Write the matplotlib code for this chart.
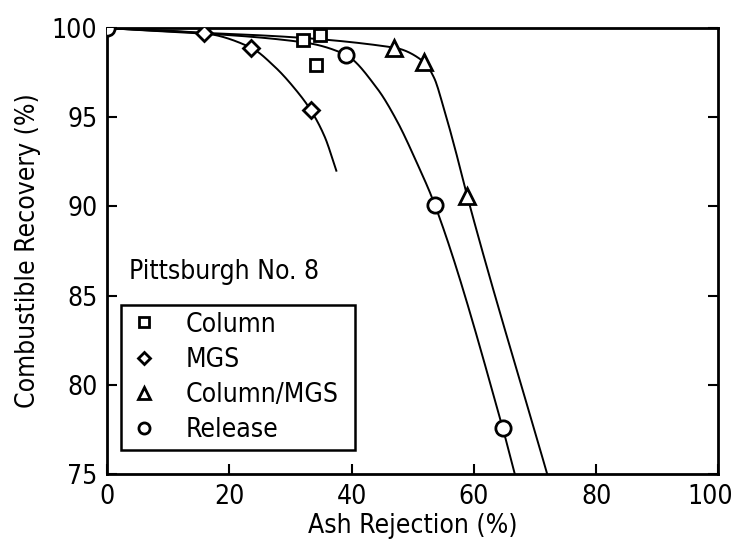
import numpy as np
import matplotlib
matplotlib.use("Agg")
import matplotlib.pyplot as plt
import matplotlib.transforms as mtransforms
from matplotlib import font_manager as fm
from matplotlib.lines import Line2D

# ---- data ----
column_x = [32.0, 34.8, 34.1]
column_y = [99.3, 99.6, 97.9]

mgs_x = [15.9, 23.5, 33.3]
mgs_y = [99.7, 98.9, 95.4]

colmgs_x = [46.9, 51.8, 58.9]
colmgs_y = [98.9, 98.1, 90.6]

release_x = [0.0, 39.0, 53.6, 64.7]
release_y = [100.0, 98.5, 90.1, 77.6]

# fitted trend curves
mgs_curve_x = [0, 15.9, 23.5, 27.5, 30.7, 33.3, 35.6, 37.5]
mgs_curve_y = [100, 99.7, 98.9, 97.8, 96.6, 95.4, 93.9, 92.0]
colmgs_curve_x = [0, 46.9, 51.8, 53.5, 55.0, 57.1, 58.9, 72.0]
colmgs_curve_y = [100, 98.9, 98.1, 97.2, 95.6, 93.0, 90.6, 75.0]
release_curve_x = [0, 32.0, 39.0, 44.2, 47.4, 50.6, 53.6, 64.7, 66.7]
release_curve_y = [100, 99.2, 98.5, 96.6, 94.8, 92.5, 90.1, 77.6, 75.0]

x_ticks = [0, 20, 40, 60, 80, 100]
y_ticks = [75, 80, 85, 90, 95, 100]


def pchip(x, y, xs):
    x = np.asarray(x, float); y = np.asarray(y, float)
    h = np.diff(x); d = np.diff(y) / h
    n = len(x)
    m = np.zeros(n)
    for k in range(1, n - 1):
        if d[k - 1] * d[k] <= 0:
            m[k] = 0
        else:
            w1 = 2 * h[k] + h[k - 1]; w2 = h[k] + 2 * h[k - 1]
            m[k] = (w1 + w2) / (w1 / d[k - 1] + w2 / d[k])
    m[0] = d[0]; m[-1] = d[-1]
    idx = np.clip(np.searchsorted(x, xs) - 1, 0, n - 2)
    t = (xs - x[idx]) / h[idx]
    h00 = 2 * t**3 - 3 * t**2 + 1; h10 = t**3 - 2 * t**2 + t
    h01 = -2 * t**3 + 3 * t**2; h11 = t**3 - t**2
    return h00 * y[idx] + h10 * h[idx] * m[idx] + h01 * y[idx + 1] + h11 * h[idx] * m[idx + 1]


names = {f.name for f in fm.fontManager.ttflist}
fam = None
for cand in ["Liberation Sans Narrow", "DejaVu Sans Condensed"]:
    if cand in names:
        fam = cand
        break
if fam is None:
    fam = "DejaVu Sans"
plt.rcParams["font.family"] = [fam, "DejaVu Sans"]
plt.rcParams["font.stretch"] = "condensed"

fig = plt.figure(figsize=(7.39, 5.59), dpi=100)
ax = fig.add_axes([0.145, 0.152, 0.827, 0.798])

for cx, cy in [(mgs_curve_x, mgs_curve_y), (colmgs_curve_x, colmgs_curve_y),
               (release_curve_x, release_curve_y)]:
    xs = np.linspace(cx[0], cx[-1], 400)
    ax.plot(xs, pchip(cx, cy, xs), color="black", lw=1.4, zorder=2)

mk = dict(linestyle="none", markerfacecolor="white", markeredgecolor="black",
          markeredgewidth=2.0, zorder=3)
ax.plot(column_x, column_y, marker="s", markersize=9, **mk)
ax.plot(mgs_x, mgs_y, marker="D", markersize=8.5, **mk)
ax.plot(colmgs_x, colmgs_y, marker="^", markersize=11, **mk)
ax.plot(release_x, release_y, marker="o", markersize=11, **mk)

ax.set_xlim(0, 100)
ax.set_ylim(75, 100)
ax.set_xticks(x_ticks)
ax.set_yticks(y_ticks)
ax.tick_params(direction="in", length=7, width=1.5, labelsize=19, pad=7,
               right=True, top=False)
for s in ax.spines.values():
    s.set_linewidth(2.0)

# nudge the last x tick label inward so it stays inside the figure
last = ax.get_xticklabels()[-1]
last.set_transform(last.get_transform() +
                   mtransforms.ScaledTranslation(-6 / 72, 0, fig.dpi_scale_trans))

ax.set_xlabel("Ash Rejection (%)", fontsize=19, labelpad=2)
ax.set_ylabel("Combustible Recovery (%)", fontsize=19, labelpad=8)

ax.text(0.035, 0.453, "Pittsburgh No. 8", transform=ax.transAxes,
        fontsize=19, va="center", ha="left")

lmk = dict(linestyle="none", markerfacecolor="white", markeredgecolor="black",
           markeredgewidth=2.0)
handles = [
    Line2D([], [], marker="s", markersize=7, **lmk),
    Line2D([], [], marker="D", markersize=6.5, **lmk),
    Line2D([], [], marker="^", markersize=8, **lmk),
    Line2D([], [], marker="o", markersize=8, **lmk),
]
leg = ax.legend(handles, ["Column", "MGS", "Column/MGS", "Release"],
                loc="lower left", bbox_to_anchor=(0.023, 0.054, 0.383, 0.341),
                mode="expand", fontsize=19, frameon=True, fancybox=False,
                edgecolor="black", handlelength=1.2, handletextpad=1.0,
                labelspacing=0.35, borderpad=0.25, borderaxespad=0)
leg.get_frame().set_linewidth(1.8)
leg.get_frame().set_alpha(1)

fig.savefig("out.png", dpi=100)
